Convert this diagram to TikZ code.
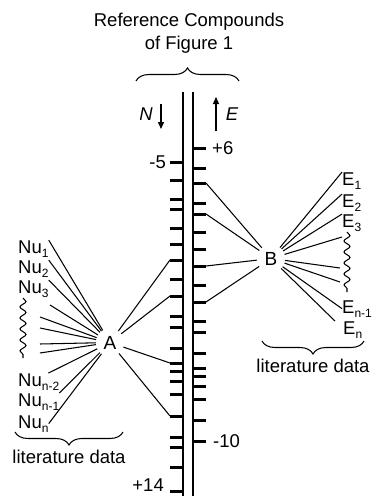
\documentclass[tikz,border=0pt]{standalone}
\usepackage{fontspec}
\setmainfont{Liberation Sans}
\usetikzlibrary{decorations.pathreplacing,decorations.pathmorphing,arrows.meta}
\newcommand{\sbs}[1]{\raisebox{-4pt}{\fontsize{12}{12}\selectfont #1}}
\begin{document}
\begin{tikzpicture}[x=1pt,y=-1pt,
  txt/.style={font=\fontsize{18.5}{22}\selectfont, inner sep=0pt},
  scaleline/.style={line width=2.2pt},
  tickmark/.style={line width=3pt},
  conn/.style={line width=1.05pt},
  hub/.style={circle, minimum size=28pt, inner sep=0pt, font=\fontsize{19}{22}\selectfont},
  bracestyle/.style={decorate, decoration={brace, amplitude=13pt}, line width=1.05pt},
  wave/.style={decorate, decoration={snake, amplitude=3pt, segment length=11pt}, line width=1.05pt},
  dirarrow/.style={line width=1.3pt, -{Triangle[length=7pt,width=6pt]}}
]
\useasboundingbox (0,0) rectangle (374,496);

% title
\node[txt, anchor=base] (t1) at (189,26) {Reference Compounds};
\node[txt, anchor=base] (t2) at (189,49) {of Figure 1};
\draw[bracestyle] (136,81) -- (239,81);

% scale lines
\coordinate (Ltop) at (183,92); \coordinate (Lbot) at (183,496);
\coordinate (Rtop) at (193,92); \coordinate (Rbot) at (193,496);
\draw[scaleline] (Ltop) -- (Lbot);
\draw[scaleline] (Rtop) -- (Rbot);

\foreach \y in {162,180,199,209,228,244,260,279,296,316,327,348,363,371,381,394,416,437,447,467,491}{
  \draw[tickmark] (170,\y) -- (183,\y);
  \coordinate (L\y) at (170,\y);
}
\foreach \y in {148,168,183,203,214,232,249,266,285,302,321,332,353,368,376,386,399,420,441}{
  \draw[tickmark] (193,\y) -- (206,\y);
  \coordinate (R\y) at (206,\y);
}

\node[txt, anchor=east] (lm5) at (166,162.5) {-5};
\node[txt, anchor=west] (lp6) at (212,148) {+6};
\node[txt, anchor=west] (lm10) at (213,441) {-10};
\node[txt, anchor=east] (lp14) at (164,485.5) {+14};

% direction arrows
\node[txt, font=\fontsize{18.5}{22}\selectfont\itshape] (N) at (146,114.5) {N};
\node[txt, font=\fontsize{18.5}{22}\selectfont\itshape] (E) at (232,114.5) {E};
\coordinate (Na) at (161,104); \coordinate (Nb) at (161,129);
\coordinate (Ea) at (216,131); \coordinate (Eb) at (216,97);
\draw[dirarrow] (Na) -- (Nb);
\draw[dirarrow] (Ea) -- (Eb);

% hubs
\node[hub] (A) at (110,342.5) {A};
\node[hub] (B) at (271,258.5) {B};

\draw[conn] (A) -- (L260);
\draw[conn] (A) -- (L296);
\draw[conn] (A) -- (L363);
\draw[conn] (A) -- (L416);
\draw[conn] (B) -- (R183);
\draw[conn] (B) -- (R214);
\draw[conn] (B) -- (R266);
\draw[conn] (B) -- (R302);

% left labels
\node[txt, anchor=base west] (Nu1) at (18,253) {Nu\sbs{1}};
\node[txt, anchor=base west] (Nu2) at (18,273) {Nu\sbs{2}};
\node[txt, anchor=base west] (Nu3) at (18,293) {Nu\sbs{3}};
\node[txt, anchor=base west] (Nun2) at (18,386) {Nu\sbs{n-2}};
\node[txt, anchor=base west] (Nun1) at (18,406) {Nu\sbs{n-1}};
\node[txt, anchor=base west] (Nun) at (18,428) {Nu\sbs{n}};

\coordinate (a4) at (50,305);
\coordinate (a5) at (40,317);
\coordinate (a6) at (40,328);
\coordinate (a7) at (40,344);
\coordinate (a8) at (40,353);

\draw[conn] (Nu1.north east) -- (A);
\draw[conn] (Nu2.north east) -- (A);
\draw[conn] (Nu3.north east) -- (A);
\foreach \c in {a4,a5,a6,a7,a8} \draw[conn] (\c) -- (A);
\draw[conn] ([xshift=-11pt]Nun2.north east) -- (A);
\draw[conn] (Nun1.north east) -- (A);
\draw[conn] (Nun.east) -- (A);

\draw[wave] (23,298) -- (23,358);

% right labels
\node[txt, anchor=base west] (E1) at (342,185) {E\sbs{1}};
\node[txt, anchor=base west] (E2) at (342,207) {E\sbs{2}};
\node[txt, anchor=base west] (E3) at (342,227) {E\sbs{3}};
\node[txt, anchor=base west] (En1) at (342,313) {E\sbs{n-1}};
\node[txt, anchor=base west] (En) at (343,334) {E\sbs{n}};

\coordinate (b4) at (342,237);
\coordinate (b5) at (340,268);
\coordinate (b6) at (340,282);

\draw[conn] (E1.north west) -- (B);
\draw[conn] (E2.north west) -- (B);
\draw[conn] (E3.north west) -- (B);
\foreach \c in {b4,b5,b6} \draw[conn] (\c) -- (B);
\draw[conn] (En1.west) -- (B);
\draw[conn] ([xshift=-8pt]En.north west) -- (B);

\draw[wave] (347,232) -- (347,292);

% literature data braces
\draw[bracestyle] (123,432) -- (15,432);
\node[txt, anchor=base] (lit1) at (69,463) {literature data};
\draw[bracestyle] (364,341) -- (262,341);
\node[txt, anchor=base] (lit2) at (313,372) {literature data};
\end{tikzpicture}
\end{document}
